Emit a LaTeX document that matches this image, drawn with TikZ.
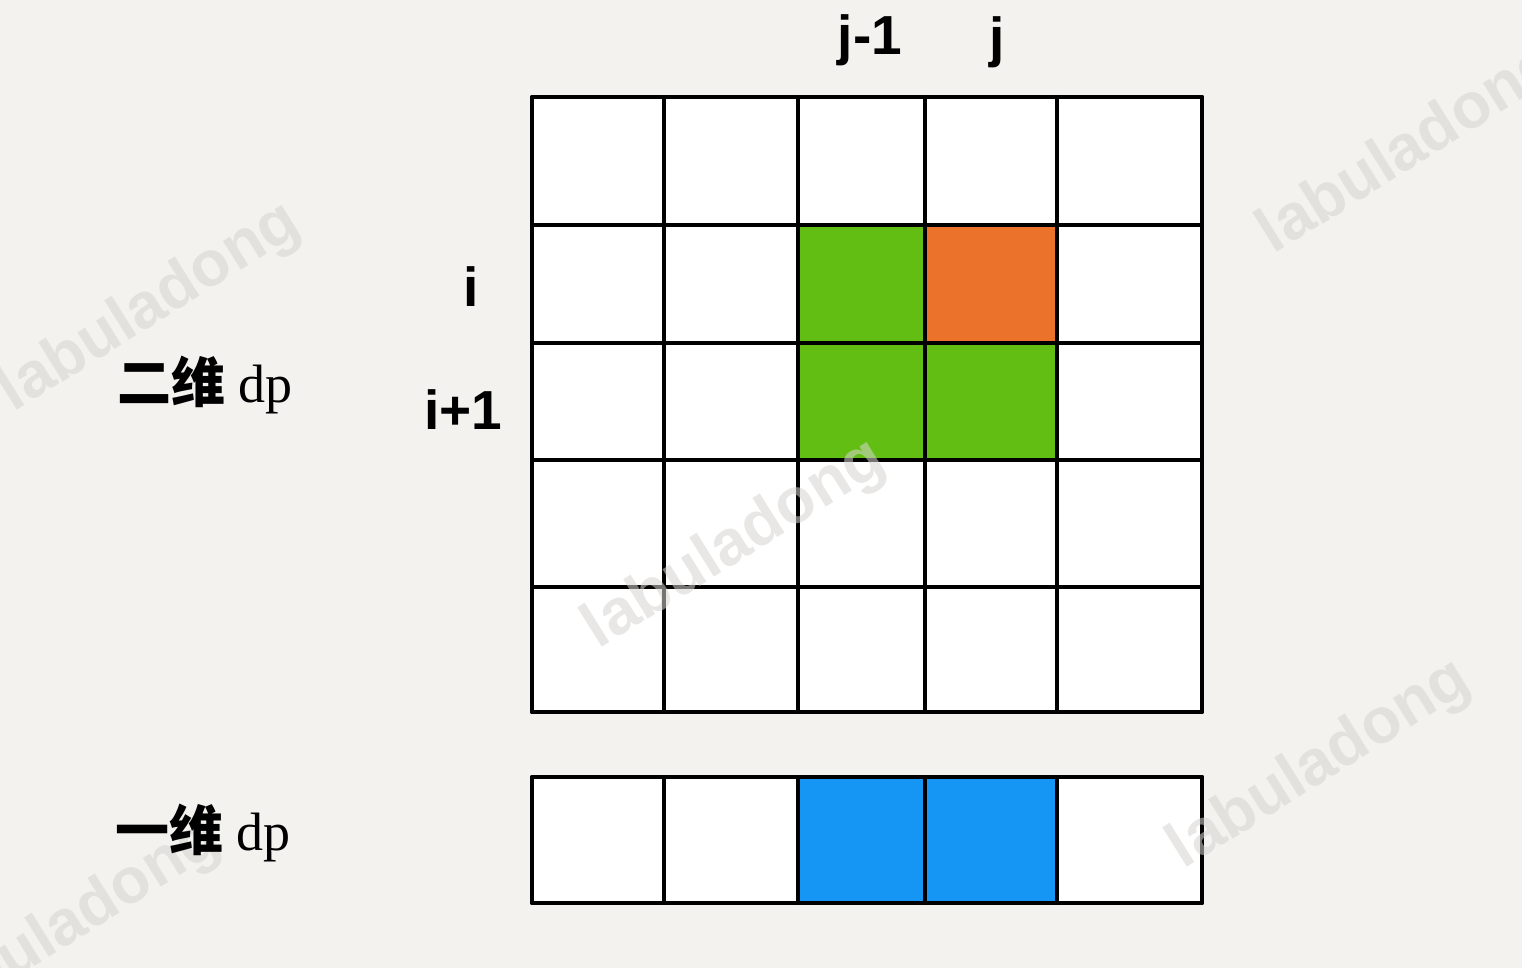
\documentclass[tikz,border=0pt]{standalone}
\usepackage{fontspec}
\setmainfont{Liberation Serif}
\setsansfont{Liberation Sans}
\newfontfamily\cjk{Noto Sans CJK SC}
\definecolor{bg}{HTML}{F4F2EE}
\definecolor{gr}{HTML}{63BE14}
\definecolor{og}{HTML}{EA722A}
\definecolor{bl}{HTML}{1596F5}
\definecolor{wm}{HTML}{D6D4D0}
\tikzset{
  gridline/.style={line width=4pt, line cap=round},
  idx/.style={font=\sffamily\bfseries\fontsize{55}{55}\selectfont, inner sep=0pt},
  lab/.style={font=\fontsize{54}{54}\selectfont, inner sep=0pt},
  wmark/.style={font=\sffamily\bfseries\fontsize{64}{64}\selectfont, text=wm, text opacity=0.55, rotate=32, inner sep=0pt}
}
\begin{document}
\begin{tikzpicture}[x=1pt,y=-1pt]
\fill[bg] (0,0) rectangle (1522,968);
\useasboundingbox (0,0) rectangle (1522,968);
% grid cells
\fill[white] (532,97) rectangle (1202,712);
\fill[gr] (798,225) rectangle (925,460);
\fill[gr] (925,343) rectangle (1057,460);
\fill[og] (925,225) rectangle (1057,343);
\fill[white] (532,777) rectangle (1202,903);
\fill[bl] (798,777) rectangle (1057,903);
% grid lines 2D
\foreach \x in {532,664,798,925,1057,1202} \draw[gridline] (\x,97) -- (\x,712);
\foreach \y in {97,225,343,460,587,712} \draw[gridline] (532,\y) -- (1202,\y);
% 1D strip
\foreach \x in {532,664,798,925,1057,1202} \draw[gridline] (\x,777) -- (\x,903);
\foreach \y in {777,903} \draw[gridline] (532,\y) -- (1202,\y);
% watermarks
\node[wmark] (w1) at (150,308) {labuladong};
\node[wmark] (w2) at (735,545) {labuladong};
\node[wmark] (w3) at (1410,150) {labuladong};
\node[wmark] (w4) at (1320,765) {labuladong};
\node[wmark] (w5) at (70,925) {labuladong};
% labels
\node[idx] (jm1) at (870,40) {j-1};
\node[idx] (j) at (997,42) {j};
\node[idx] (i) at (471,287) {i};
\node[idx] (ip1) at (463,410) {i+1};
\node[lab] (two) at (205,385) {{\cjk\bfseries 二维} dp};
\node[lab] (one) at (203,833) {{\cjk\bfseries 一维} dp};
\end{tikzpicture}
\end{document}
